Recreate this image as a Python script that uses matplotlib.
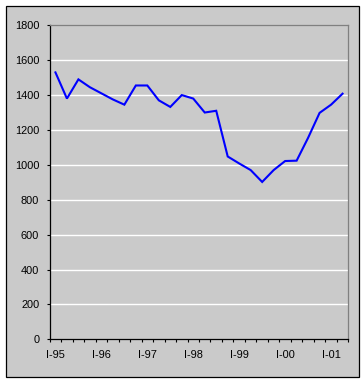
import matplotlib
matplotlib.use("Agg")
import matplotlib.pyplot as plt
from matplotlib.patches import Rectangle
from matplotlib.ticker import FixedLocator, FixedFormatter

quarters = ["I-95", "II-95", "III-95", "IV-95", "I-96", "II-96", "III-96", "IV-96",
            "I-97", "II-97", "III-97", "IV-97", "I-98", "II-98", "III-98", "IV-98",
            "I-99", "II-99", "III-99", "IV-99", "I-00", "II-00", "III-00", "IV-00",
            "I-01", "II-01"]
values = [1530, 1380, 1490, 1445, 1410, 1375, 1345, 1455, 1455, 1370, 1332, 1400,
          1380, 1300, 1310, 1048, 1008, 970, 902, 970, 1022, 1024, 1155, 1298,
          1345, 1408]
label_quarters = ["I-95", "I-96", "I-97", "I-98", "I-99", "I-00", "I-01"]
y_ticks = [0, 200, 400, 600, 800, 1000, 1200, 1400, 1600, 1800]

W, H = 364, 382
fig = plt.figure(figsize=(W / 100, H / 100), dpi=100)
fig.patch.set_facecolor("white")
bg = "#CACACA"
fig.patches.append(Rectangle((5.5 / W, (H - 376.5) / H), 353 / W, 371 / H,
                             transform=fig.transFigure, facecolor=bg,
                             edgecolor="black", linewidth=0.9, zorder=-5))

ax = fig.add_axes([49.7 / W, (H - 339.3) / H, 298.6 / W, 314 / H])
ax.set_zorder(2)
ax.set_facecolor(bg)
font = "Liberation Sans"
fs = 7.9

x = list(range(len(quarters)))
ax.plot(x, values, color="#0000FF", linewidth=1.5, solid_joinstyle="miter", zorder=3)

ax.set_xlim(-0.5, len(quarters) - 0.5)
ax.set_ylim(0, 1800)
ax.set_yticks(y_ticks)
ax.set_yticklabels([str(v) for v in y_ticks], fontsize=fs, family=font)
for v in y_ticks[1:-1]:
    ax.axhline(v, color="white", linewidth=1.0, zorder=1)

pos = [quarters.index(q) for q in label_quarters]
ax.xaxis.set_major_locator(FixedLocator(pos))
ax.xaxis.set_major_formatter(FixedFormatter(label_quarters))
ax.xaxis.set_minor_locator(FixedLocator([i - 0.5 for i in range(len(quarters) + 1)]))
ax.tick_params(axis="x", which="major", length=0, pad=8.0, labelsize=fs)
ax.tick_params(axis="x", which="minor", length=2.5, width=0.8, color="black")
ax.tick_params(axis="y", length=2.5, width=0.8, pad=5, labelsize=fs)
for lab in ax.get_xticklabels():
    lab.set_family(font)

ax.spines["left"].set_color("black")
ax.spines["bottom"].set_color("black")
ax.spines["left"].set_linewidth(0.9)
ax.spines["bottom"].set_linewidth(0.9)
ax.spines["top"].set_color("#808080")
ax.spines["right"].set_color("#808080")
ax.spines["top"].set_linewidth(0.9)
ax.spines["right"].set_linewidth(0.9)

fig.savefig("out.png", dpi=100, facecolor="white")
